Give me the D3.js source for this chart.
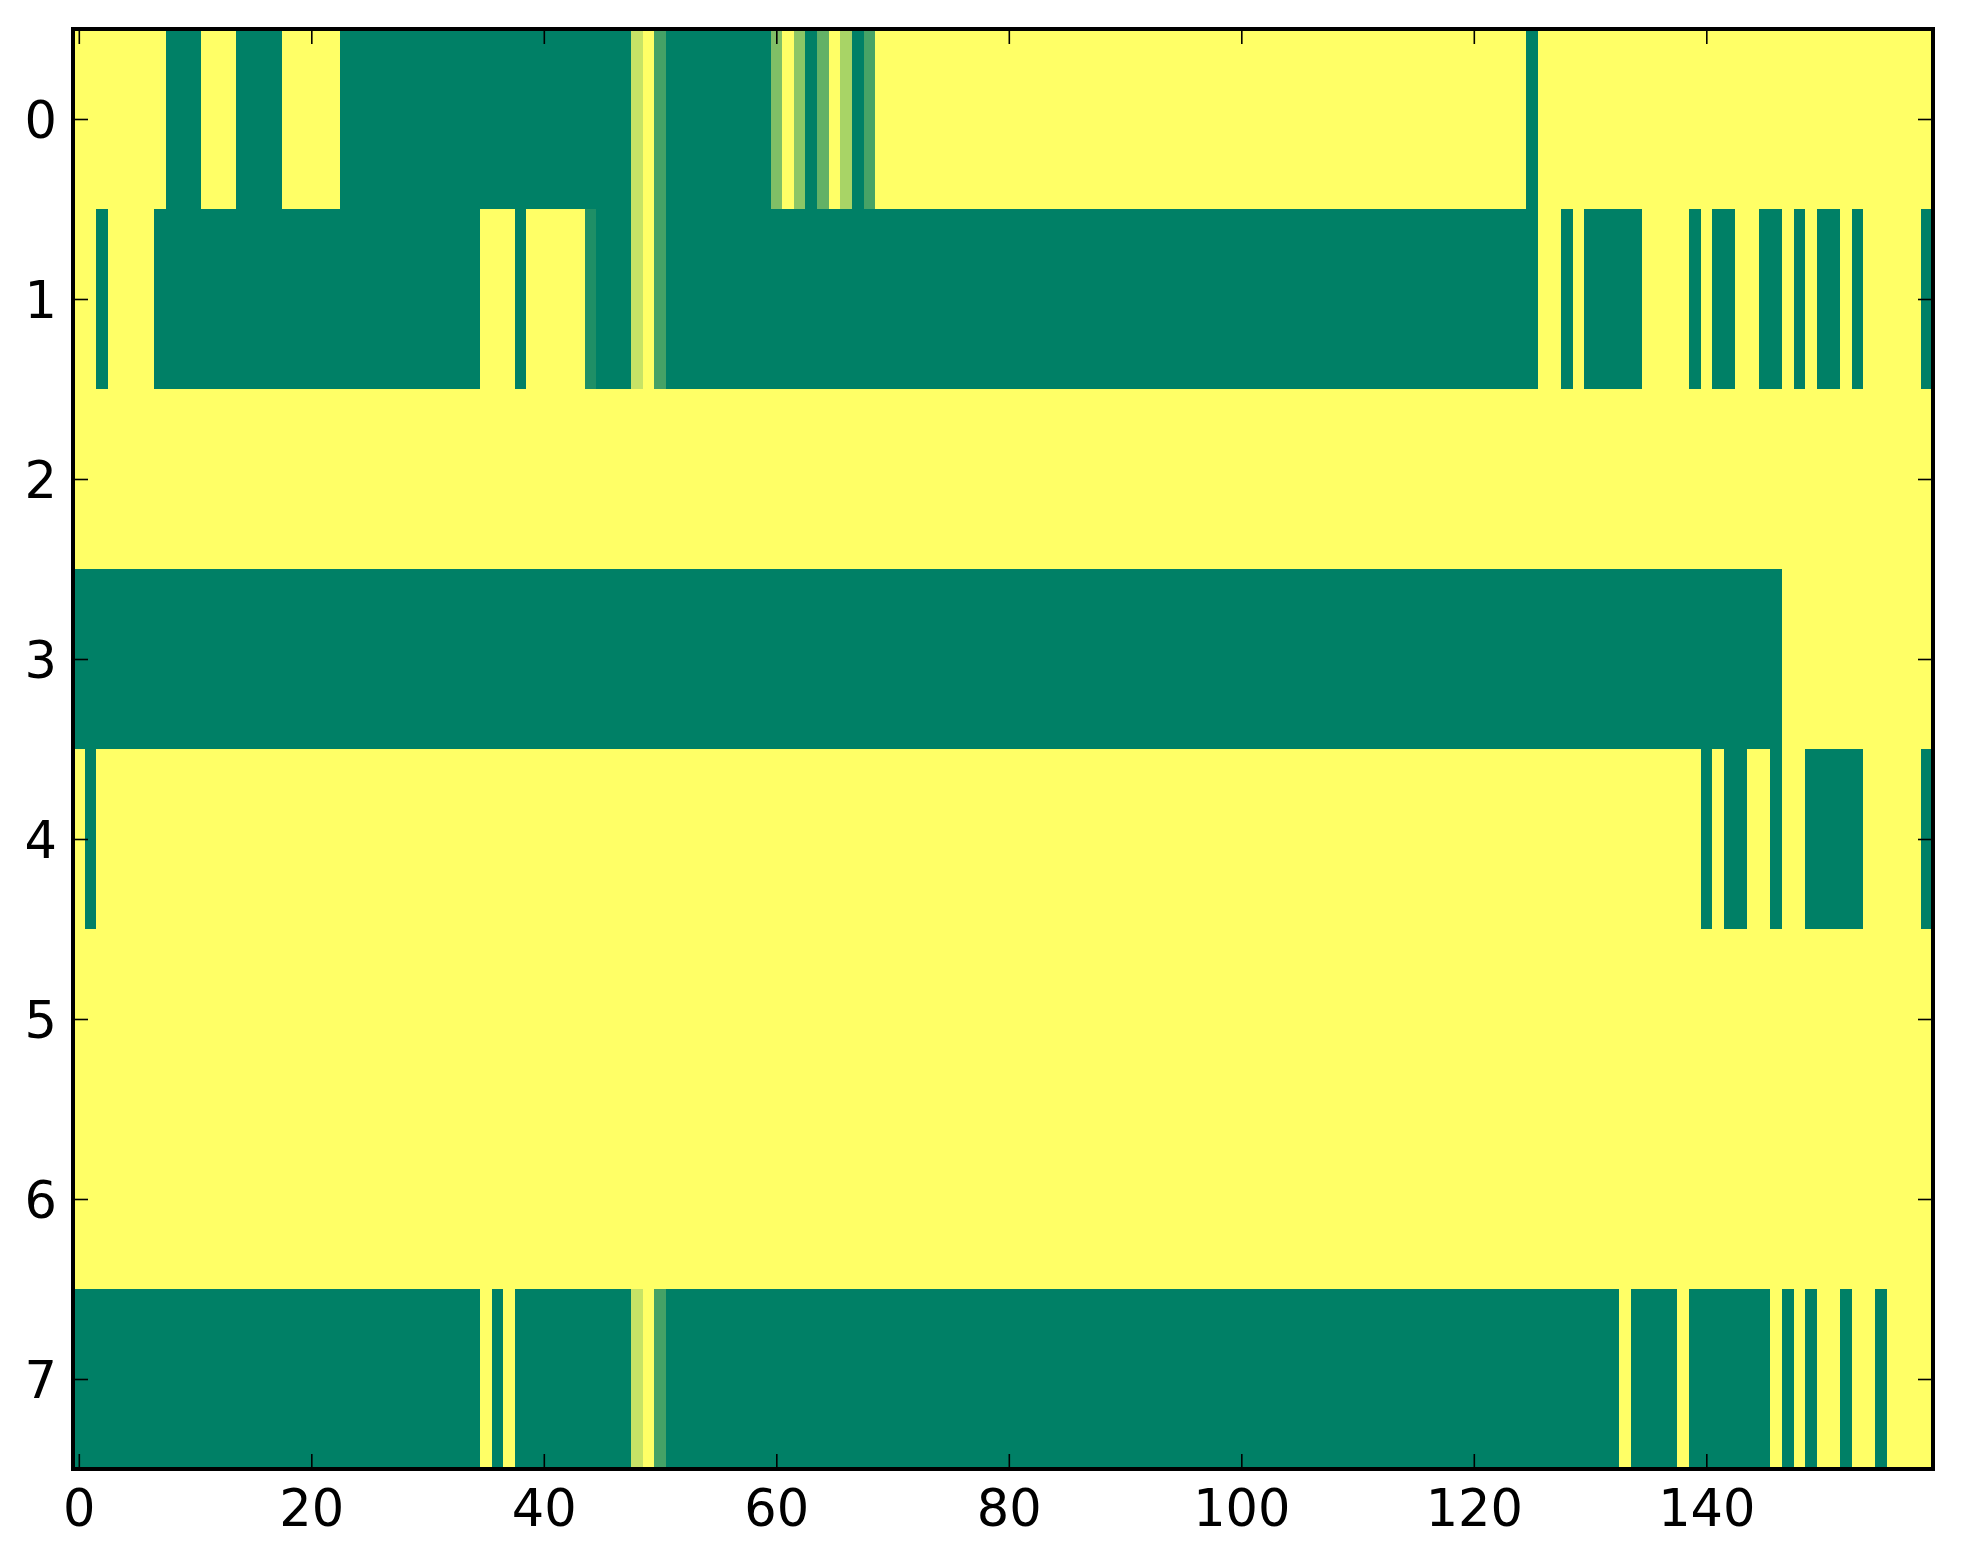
<!DOCTYPE html>
<html>
<head>
<meta charset="utf-8">
<script src="https://cdn.jsdelivr.net/npm/d3@7"></script>
<style>
    body { margin: 0; background: #fff; }
    svg { display: block; }
    .tick text { font-family: "DejaVu Sans", sans-serif; }
</style>
</head>
<body>
<svg id="chart" width="1963" height="1564"></svg>
<script>
/*Значения ячеек, 8 строк по 160 столбцов (0 - зелёный, 1 - жёлтый)*/
const row0 = [
    1,1,1,1,1,1,1,1,0,0,0,1,1,1,0,0,0,0,1,1,
    1,1,1,0,0,0,0,0,0,0,0,0,0,0,0,0,0,0,0,0,
    0,0,0,0,0,0,0,0,.78,1,.27,0,0,0,0,0,0,0,0,0,
    .5,1,.55,0,.39,1,.66,0,.28,1,1,1,1,1,1,1,1,1,1,1,
    1,1,1,1,1,1,1,1,1,1,1,1,1,1,1,1,1,1,1,1,
    1,1,1,1,1,1,1,1,1,1,1,1,1,1,1,1,1,1,1,1,
    1,1,1,1,1,0,1,1,1,1,1,1,1,1,1,1,1,1,1,1,
    1,1,1,1,1,1,1,1,1,1,1,1,1,1,1,1,1,1,1,1
];
const row1 = [
    1,1,0,1,1,1,1,0,0,0,0,0,0,0,0,0,0,0,0,0,
    0,0,0,0,0,0,0,0,0,0,0,0,0,0,0,1,1,1,0,1,
    1,1,1,1,.12,0,0,0,.78,1,.27,0,0,0,0,0,0,0,0,0,
    0,0,0,0,0,0,0,0,0,0,0,0,0,0,0,0,0,0,0,0,
    0,0,0,0,0,0,0,0,0,0,0,0,0,0,0,0,0,0,0,0,
    0,0,0,0,0,0,0,0,0,0,0,0,0,0,0,0,0,0,0,0,
    0,0,0,0,0,0,1,1,0,1,0,0,0,0,0,1,1,1,1,0,
    1,0,0,1,1,0,0,1,0,1,0,0,1,0,1,1,1,1,1,0
];
const row2 = [
    1,1,1,1,1,1,1,1,1,1,1,1,1,1,1,1,1,1,1,1,
    1,1,1,1,1,1,1,1,1,1,1,1,1,1,1,1,1,1,1,1,
    1,1,1,1,1,1,1,1,1,1,1,1,1,1,1,1,1,1,1,1,
    1,1,1,1,1,1,1,1,1,1,1,1,1,1,1,1,1,1,1,1,
    1,1,1,1,1,1,1,1,1,1,1,1,1,1,1,1,1,1,1,1,
    1,1,1,1,1,1,1,1,1,1,1,1,1,1,1,1,1,1,1,1,
    1,1,1,1,1,1,1,1,1,1,1,1,1,1,1,1,1,1,1,1,
    1,1,1,1,1,1,1,1,1,1,1,1,1,1,1,1,1,1,1,1
];
const row3 = [
    0,0,0,0,0,0,0,0,0,0,0,0,0,0,0,0,0,0,0,0,
    0,0,0,0,0,0,0,0,0,0,0,0,0,0,0,0,0,0,0,0,
    0,0,0,0,0,0,0,0,0,0,0,0,0,0,0,0,0,0,0,0,
    0,0,0,0,0,0,0,0,0,0,0,0,0,0,0,0,0,0,0,0,
    0,0,0,0,0,0,0,0,0,0,0,0,0,0,0,0,0,0,0,0,
    0,0,0,0,0,0,0,0,0,0,0,0,0,0,0,0,0,0,0,0,
    0,0,0,0,0,0,0,0,0,0,0,0,0,0,0,0,0,0,0,0,
    0,0,0,0,0,0,0,1,1,1,1,1,1,1,1,1,1,1,1,1
];
const row4 = [
    1,0,1,1,1,1,1,1,1,1,1,1,1,1,1,1,1,1,1,1,
    1,1,1,1,1,1,1,1,1,1,1,1,1,1,1,1,1,1,1,1,
    1,1,1,1,1,1,1,1,1,1,1,1,1,1,1,1,1,1,1,1,
    1,1,1,1,1,1,1,1,1,1,1,1,1,1,1,1,1,1,1,1,
    1,1,1,1,1,1,1,1,1,1,1,1,1,1,1,1,1,1,1,1,
    1,1,1,1,1,1,1,1,1,1,1,1,1,1,1,1,1,1,1,1,
    1,1,1,1,1,1,1,1,1,1,1,1,1,1,1,1,1,1,1,1,
    0,1,0,0,1,1,0,1,1,0,0,0,0,0,1,1,1,1,1,0
];
const row5 = [
    1,1,1,1,1,1,1,1,1,1,1,1,1,1,1,1,1,1,1,1,
    1,1,1,1,1,1,1,1,1,1,1,1,1,1,1,1,1,1,1,1,
    1,1,1,1,1,1,1,1,1,1,1,1,1,1,1,1,1,1,1,1,
    1,1,1,1,1,1,1,1,1,1,1,1,1,1,1,1,1,1,1,1,
    1,1,1,1,1,1,1,1,1,1,1,1,1,1,1,1,1,1,1,1,
    1,1,1,1,1,1,1,1,1,1,1,1,1,1,1,1,1,1,1,1,
    1,1,1,1,1,1,1,1,1,1,1,1,1,1,1,1,1,1,1,1,
    1,1,1,1,1,1,1,1,1,1,1,1,1,1,1,1,1,1,1,1
];
const row6 = [
    1,1,1,1,1,1,1,1,1,1,1,1,1,1,1,1,1,1,1,1,
    1,1,1,1,1,1,1,1,1,1,1,1,1,1,1,1,1,1,1,1,
    1,1,1,1,1,1,1,1,1,1,1,1,1,1,1,1,1,1,1,1,
    1,1,1,1,1,1,1,1,1,1,1,1,1,1,1,1,1,1,1,1,
    1,1,1,1,1,1,1,1,1,1,1,1,1,1,1,1,1,1,1,1,
    1,1,1,1,1,1,1,1,1,1,1,1,1,1,1,1,1,1,1,1,
    1,1,1,1,1,1,1,1,1,1,1,1,1,1,1,1,1,1,1,1,
    1,1,1,1,1,1,1,1,1,1,1,1,1,1,1,1,1,1,1,1
];
const row7 = [
    0,0,0,0,0,0,0,0,0,0,0,0,0,0,0,0,0,0,0,0,
    0,0,0,0,0,0,0,0,0,0,0,0,0,0,0,1,0,1,0,0,
    0,0,0,0,0,0,0,0,.78,1,.27,0,0,0,0,0,0,0,0,0,
    0,0,0,0,0,0,0,0,0,0,0,0,0,0,0,0,0,0,0,0,
    0,0,0,0,0,0,0,0,0,0,0,0,0,0,0,0,0,0,0,0,
    0,0,0,0,0,0,0,0,0,0,0,0,0,0,0,0,0,0,0,0,
    0,0,0,0,0,0,0,0,0,0,0,0,0,1,0,0,0,0,1,0,
    0,0,0,0,0,0,1,0,1,0,1,1,0,1,1,0,1,1,1,1
];
const rows = [row0, row1, row2, row3, row4, row5, row6, row7];

/*Подписи делений*/
const xTicks = [0, 20, 40, 60, 80, 100, 120, 140];
const yTicks = [0, 1, 2, 3, 4, 5, 6, 7];

// область графика
const plotLeft = 73, plotRight = 1933, plotTop = 29, plotBottom = 1469;
const tickLen = 15, fontSize = 51;

const svg = d3.select('#chart');

const x = d3.scaleLinear().domain([-0.5, 159.5]).range([plotLeft, plotRight]);
const y = d3.scaleLinear().domain([-0.5, 7.5]).range([plotTop, plotBottom]);

// палитра summer из matplotlib: (v, 0.5 + v/2, 0.4)
const summer = v => d3.rgb(255 * v, 255 * (0.5 + v / 2), 255 * 0.4);
const color = d3.scaleLinear().domain([0, 1]).range([0, 1]).clamp(true);

/*Ячейки*/
const cells = [];
rows.forEach((r, j) => r.forEach((v, i) => cells.push({ i: i, j: j, v: v })));

svg.append('g')
    .attr('class', 'cells')
    .attr('shape-rendering', 'crispEdges')
    .selectAll('rect')
    .data(cells)
    .enter().append('rect')
        .attr('x', d => x(d.i - 0.5))
        .attr('y', d => y(d.j - 0.5))
        .attr('width', d => x(d.i + 0.5) - x(d.i - 0.5) + 0.5)
        .attr('height', d => y(d.j + 0.5) - y(d.j - 0.5) + 0.5)
        .attr('fill', d => summer(color(d.v)));

/*Оси - деления внутрь, со всех четырёх сторон*/
function styleAxis(g) {
    g.select('.domain').remove();
    g.selectAll('.tick line').attr('stroke', '#000').attr('stroke-width', 1.6);
    g.selectAll('.tick text').attr('font-size', fontSize).attr('fill', '#000');
}

svg.append('g')
    .attr('transform', 'translate(0,' + plotBottom + ')')
    .call(d3.axisBottom(x).tickValues(xTicks).tickSizeInner(-tickLen).tickSizeOuter(0).tickFormat(d3.format('d')))
    .call(styleAxis)
    .call(g => g.selectAll('.tick text').attr('y', 57).attr('dy', null));

svg.append('g')
    .attr('transform', 'translate(0,' + plotTop + ')')
    .call(d3.axisTop(x).tickValues(xTicks).tickSizeInner(-tickLen).tickSizeOuter(0).tickFormat(''))
    .call(styleAxis);

svg.append('g')
    .attr('transform', 'translate(' + plotLeft + ',0)')
    .call(d3.axisLeft(y).tickValues(yTicks).tickSizeInner(-tickLen).tickSizeOuter(0).tickFormat(d3.format('d')))
    .call(styleAxis)
    .call(g => g.selectAll('.tick text').attr('x', -16).attr('dy', null).attr('y', 18));

svg.append('g')
    .attr('transform', 'translate(' + plotRight + ',0)')
    .call(d3.axisRight(y).tickValues(yTicks).tickSizeInner(-tickLen).tickSizeOuter(0).tickFormat(''))
    .call(styleAxis);

/*Рамка*/
svg.append('rect')
    .attr('x', plotLeft)
    .attr('y', plotTop)
    .attr('width', plotRight - plotLeft)
    .attr('height', plotBottom - plotTop)
    .attr('fill', 'none')
    .attr('stroke', '#000')
    .attr('stroke-width', 4);
</script>
</body>
</html>
